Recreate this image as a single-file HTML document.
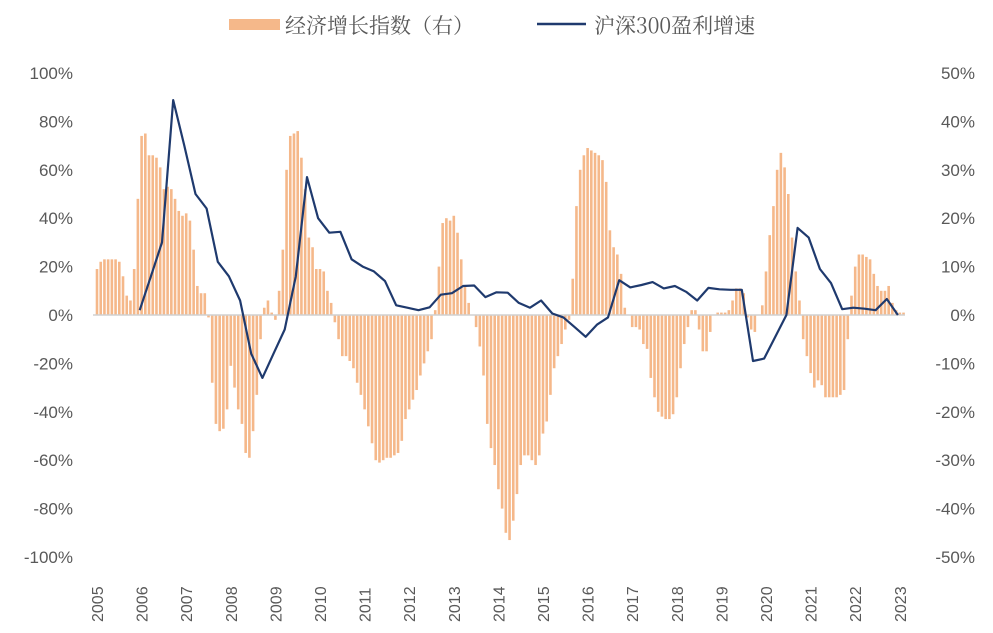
<!DOCTYPE html>
<html><head><meta charset="utf-8"><style>
body{margin:0;background:#fff;}
svg{display:block;font-family:"Liberation Sans","Noto Sans CJK SC",sans-serif;}
</style></head><body>
<svg id="chart" width="993" height="633" viewBox="0 0 993 633">
<g>
<rect x="229" y="19" width="51" height="11" fill="#f5b88a"/>
<text x="285" y="33" font-size="21" fill="#595959" font-family="'Noto Serif CJK SC',serif">经济增长指数（右）</text>
<line x1="537" y1="24" x2="586" y2="24" stroke="#1f3a6e" stroke-width="2.5"/>
<text x="594" y="33" font-size="21" fill="#595959" font-family="'Noto Serif CJK SC',serif">沪深300盈利增速</text>
</g>
<g id="plot"></g>
</svg>
<script>
// Economic growth index (right axis, %), monthly from Jan 2005
const barValues = [
9.5,11,11.5,11.5,11.5,11.5,11,8,4,3,9.5,24,
37,37.5,33,33,32.5,30.5,26,26.5,26,24,21.5,20.5,
21,19.5,13.5,6,4.5,4.5,-0.5,-14,-22.5,-24,-23.5,-19.5,
-10.5,-15,-19.5,-22.5,-28.5,-29.5,-24,-16.5,-5,1.5,3,0.5,
-1,5,13.5,30,37,37.5,38,32.5,26,16,14,9.5,
9.5,9,5,2.5,-1.5,-5,-8.5,-8.5,-9.5,-11,-14,-16.5,
-19.5,-23,-26.5,-30,-30.5,-30,-29.5,-29.5,-29,-28.5,-26,-21.5,
-19.5,-17.5,-15.5,-12.5,-10,-7.5,-5,1,10,19,20,19.5,
20.5,17,11.5,6,2.5,0,-2.5,-6.5,-12.5,-22.5,-27.5,-31,
-36,-40,-45,-46.5,-42.5,-37,-31,-29,-29,-30,-31,-29,
-24.5,-22,-16.5,-11,-8.5,-6,-3,-1,7.5,22.5,30,33,
34.5,34,33.5,33,32,27.5,17.5,14,12.5,8.5,1.5,0,
-2.5,-2.5,-3,-6,-7,-13,-17,-20,-21,-21.5,-21.5,-20.5,
-17,-11,-6,-2.5,1,1,-3,-7.5,-7.5,-3.5,0,0.5,
0.5,0.5,1,3,5.5,5.5,4.5,-0.5,-3,-3.5,0,2,
9,16.5,22.5,30,33.5,30.5,25,16,9,3,-5,-8.5,
-12,-15,-13.5,-14.5,-17,-17,-17,-17,-16.5,-15.5,-5,4,
10,12.5,12.5,12,11.5,8.5,6,5,5,6,2.5,1,
0.5,0.5];
// CSI 300 earnings growth (right axis, %), quarterly
const lineValues = [1,8,15,44.4,35,25,22,11,8,3,-8,-13,-8,-3,8,28.5,20,17,17.2,11.5,10,9,7,2,1.5,1,1.6,4.2,4.5,6,6.1,3.7,4.7,4.6,2.5,1.5,3,0.3,-0.5,-2.5,-4.5,-2,-0.5,7.2,5.7,6.2,6.8,5.5,6,4.8,3,5.6,5.3,5.2,5.2,-9.5,-9,-4.5,0,18,16,9.5,6.6,1.2,1.5,1.3,1,3.3,0];
const lineStartMonth = 11.5, lineStepMonths = 3;
const years = ["2005","2006","2007","2008","2009","2010","2011","2012","2013","2014","2015","2016","2017","2018","2019","2020","2021","2022","2023"];
const leftTicks = ["100%","80%","60%","40%","20%","0%","-20%","-40%","-60%","-80%","-100%"];
const rightTicks = ["50%","40%","30%","20%","10%","0%","-10%","-20%","-30%","-40%","-50%"];

const NS="http://www.w3.org/2000/svg";
const g=document.getElementById('plot');
const yTop=73, yBot=557;
function yR(v){return 315 - v*(yBot-yTop)/100;}
function xM(m){return 97 + m*3.7167;}
function mk(t,a){const e=document.createElementNS(NS,t);for(const k in a)e.setAttribute(k,a[k]);g.appendChild(e);return e;}

leftTicks.forEach((t,i)=>{
  const e=mk('text',{x:73,y:yTop+i*(yBot-yTop)/10+6,'text-anchor':'end','font-size':17,fill:'#595959'});
  e.textContent=t;
  
  
});
rightTicks.forEach((t,i)=>{
  const e=mk('text',{x:975,y:yTop+i*(yBot-yTop)/10+6,'text-anchor':'end','font-size':17,fill:'#595959'});
  e.textContent=t;
  
  
});
years.forEach((t,i)=>{
  const x=xM(i*12)+6;
  const e=mk('text',{x:0,y:0,transform:`translate(${x},622) rotate(-90)`,'font-size':16,fill:'#595959'});
  e.textContent=t;
  
  
});
barValues.forEach((v,i)=>{
  const x=xM(i)-1.3, y0=yR(0), y1=yR(v);
  const r=mk('rect',{x:x,y:Math.min(y0,y1),width:2.6,height:Math.max(0.5,Math.abs(y1-y0)),fill:'#f5b88a'});
  
  
});
const zl=mk('line',{x1:93,x2:905,y1:yR(0),y2:yR(0),stroke:'#d0d0d0','stroke-width':1.5});


const pts=lineValues.map((v,i)=>xM(lineStartMonth+i*lineStepMonths).toFixed(1)+','+yR(v).toFixed(1)).join(' ');
const pl=mk('polyline',{points:pts,fill:'none',stroke:'#1f3a6e','stroke-width':2.2,'stroke-linejoin':'round'});


</script>
</body></html>
